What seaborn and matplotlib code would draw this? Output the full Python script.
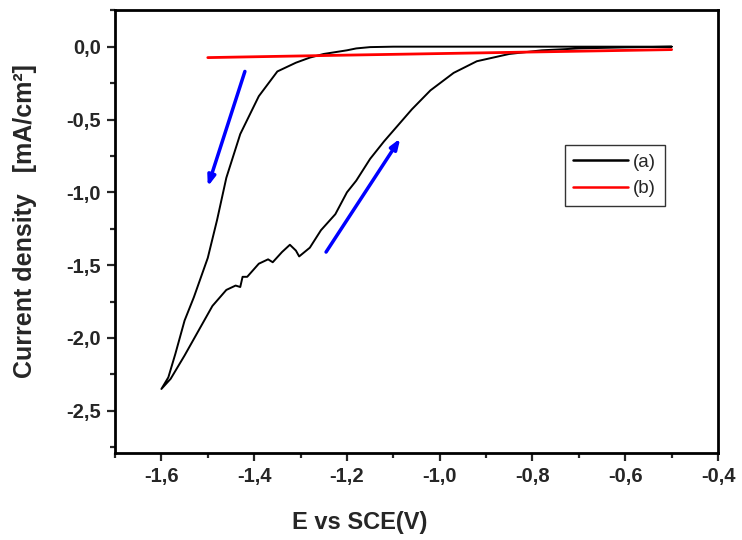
import numpy as np
import pandas as pd
import matplotlib
matplotlib.use("Agg")
import matplotlib.pyplot as plt
from matplotlib.ticker import MultipleLocator, FuncFormatter
import seaborn as sns

# cyclic voltammogram (a): cathodic sweep then return sweep
fwd_x = [-0.50, -0.70, -0.90, -1.10, -1.15, -1.18, -1.20, -1.22, -1.25, -1.28, -1.31,
         -1.35, -1.39, -1.43, -1.46, -1.48, -1.50, -1.53, -1.55, -1.57, -1.585, -1.60]
fwd_y = [0.00, 0.00, 0.00, 0.00, -0.003, -0.012, -0.025, -0.035, -0.05, -0.075, -0.11,
         -0.17, -0.34, -0.60, -0.90, -1.19, -1.45, -1.72, -1.88, -2.11, -2.27, -2.35]
rev_x = [-1.60, -1.58, -1.55, -1.52, -1.49, -1.46, -1.44, -1.43, -1.425, -1.415, -1.39,
         -1.37, -1.36, -1.34, -1.323, -1.31, -1.303, -1.28, -1.256, -1.225, -1.20, -1.18,
         -1.15, -1.12, -1.09, -1.06, -1.02, -0.97, -0.92, -0.85, -0.78, -0.70, -0.60, -0.50]
rev_y = [-2.35, -2.28, -2.12, -1.95, -1.78, -1.67, -1.64, -1.65, -1.58, -1.58, -1.49,
         -1.46, -1.48, -1.41, -1.36, -1.40, -1.44, -1.38, -1.26, -1.15, -1.00, -0.92,
         -0.77, -0.65, -0.54, -0.43, -0.30, -0.18, -0.10, -0.05, -0.025, -0.012, -0.005, 0.0]

# curve (b)
b_x = [-1.50, -1.20, -0.90, -0.50]
b_y = [-0.075, -0.058, -0.042, -0.02]

# sweep direction arrows (tail, head)
arrow_down = ((-1.42, -0.17), (-1.50, -0.96))
arrow_up = ((-1.245, -1.41), (-1.085, -0.63))

a = pd.DataFrame({"E": fwd_x + rev_x, "j": fwd_y + rev_y, "curve": "(a)"})
b = pd.DataFrame({"E": b_x, "j": b_y, "curve": "(b)"})
df = pd.concat([a, b], ignore_index=True)

sns.set_style("ticks")
plt.rcParams["font.family"] = ["Liberation Sans", "DejaVu Sans"]

fig = plt.figure(figsize=(7.42, 5.4), dpi=100)
ax = fig.add_axes([0.155, 0.161, 0.8127, 0.820])

sns.lineplot(data=df, x="E", y="j", hue="curve", sort=False, estimator=None,
             palette={"(a)": "black", "(b)": "red"}, ax=ax)
for line, lw in zip(ax.get_lines(), [1.4, 2.0]):
    line.set_linewidth(lw)

for tail, head in [arrow_down, arrow_up]:
    ax.annotate("", xy=head, xytext=tail,
                arrowprops=dict(arrowstyle="-|>,head_length=0.6,head_width=0.22",
                                color="blue", lw=2.5, shrinkA=0, shrinkB=0))

ax.set_xlim(-1.7, -0.4)
ax.set_ylim(-2.79, 0.25)
ax.xaxis.set_major_locator(MultipleLocator(0.2))
ax.xaxis.set_minor_locator(MultipleLocator(0.1))
ax.yaxis.set_major_locator(MultipleLocator(0.5))
ax.yaxis.set_minor_locator(MultipleLocator(0.25))
comma = FuncFormatter(lambda v, p: f"{v:.1f}".replace(".", ",").replace("-0,0", "0,0"))
ax.xaxis.set_major_formatter(comma)
ax.yaxis.set_major_formatter(comma)

for s in ax.spines.values():
    s.set_linewidth(2)
    s.set_color("black")
ax.tick_params(which="major", direction="out", length=6, width=1.6, labelsize=14.5, pad=4)
ax.tick_params(which="minor", direction="out", length=3.8, width=1.6)
for t in ax.get_xticklabels() + ax.get_yticklabels():
    t.set_fontweight("bold")

ax.set_xlabel("E vs SCE(V)", fontsize=17, fontweight="bold")
ax.set_ylabel("Current density   [mA/cm²]", fontsize=18, fontweight="bold")
ax.xaxis.set_label_coords(0.405, -0.13)
ax.yaxis.set_label_coords(-0.13, 0.525)

leg = ax.legend(loc="upper left", bbox_to_anchor=(0.746, 0.695), borderaxespad=0,
                fontsize=13.5, handlelength=2.9, handletextpad=0.3, frameon=True,
                fancybox=False, title=None, borderpad=0.45, labelspacing=0.5)
leg.get_frame().set_edgecolor("black")
leg.get_frame().set_linewidth(1)
for h in leg.get_lines():
    h.set_linewidth(1.8)

fig.savefig("out.png", dpi=100)
